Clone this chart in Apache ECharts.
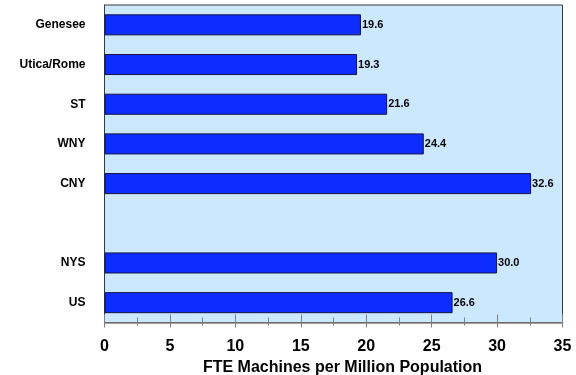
<!DOCTYPE html>
<html>
<head>
<meta charset="utf-8">
<script src="https://cdn.jsdelivr.net/npm/echarts@6/dist/echarts.min.js"></script>
<style>
  html, body { margin: 0; padding: 0; background: #ffffff; }
  #chart { width: 576px; height: 375px; }
</style>
</head>
<body>
<div id="chart"></div>
<script>
// Regions, top to bottom; the empty entry leaves a gap before the state and national rows.
const regions = ['Genesee', 'Utica/Rome', 'ST', 'WNY', 'CNY', '', 'NYS', 'US'];
// FTE machines per million population for each region.
const machinesPerMillion = [19.6, 19.3, 21.6, 24.4, 32.6, null, 30.0, 26.6];
// Value axis range and step.
const axisMin = 0;
const axisMax = 35;
const axisStep = 5;
const axisTitle = 'FTE Machines per Million Population';

const FONT = '"Liberation Sans", Arial, sans-serif';
const chart = echarts.init(document.getElementById('chart'), null, { renderer: 'canvas' });

const valueAxisBase = {
  type: 'value',
  gridIndex: 0,
  position: 'bottom',
  min: axisMin,
  max: axisMax,
  interval: axisStep,
  splitLine: { show: false }
};

chart.setOption({
  animation: false,
  backgroundColor: '#ffffff',
  grid: {
    left: 104.5,
    right: 13.5,
    top: 5,
    bottom: 52.5,
    show: true,
    backgroundColor: '#CCE8FF',
    borderColor: '#3a3a3a',
    borderWidth: 1,
    outerBoundsMode: 'none',
    containLabel: false
  },
  xAxis: [
    Object.assign({}, valueAxisBase, {
      name: axisTitle,
      nameLocation: 'middle',
      nameGap: 30,
      nameTextStyle: {
        fontFamily: FONT, fontWeight: 'bold', fontSize: 16, color: '#000',
        padding: [0, 0, 0, 18]
      },
      axisLine: { show: true, lineStyle: { color: '#808080', width: 1.5 } },
      axisTick: { show: true, inside: false, length: 5, lineStyle: { color: '#808080', width: 1 } },
      minorTick: { show: true, splitNumber: 2, length: 3, lineStyle: { color: '#808080', width: 1 } },
      axisLabel: {
        fontFamily: FONT, fontWeight: 'bold', fontSize: 16, color: '#000', margin: 16
      }
    }),
    // Upper half of the tick marks, which cross the axis line.
    Object.assign({}, valueAxisBase, {
      axisLine: { show: false },
      axisLabel: { show: false },
      axisTick: { show: true, inside: true, length: 8, lineStyle: { color: '#808080', width: 1 } },
      minorTick: { show: true, splitNumber: 2, length: 5, lineStyle: { color: '#808080', width: 1 } }
    })
  ],
  yAxis: {
    type: 'category',
    data: regions,
    inverse: true,
    axisLine: { show: true, lineStyle: { color: '#3a3a3a', width: 1 } },
    axisTick: { show: false },
    axisLabel: {
      fontFamily: FONT, fontWeight: 'bold', fontSize: 12, color: '#000', margin: 19
    },
    splitLine: { show: false }
  },
  series: [{
    type: 'bar',
    xAxisIndex: 0,
    data: machinesPerMillion,
    barCategoryGap: '47%',
    itemStyle: { color: '#0D2DFF', borderColor: '#141440', borderWidth: 1 },
    label: {
      show: true,
      position: 'right',
      distance: 1,
      fontFamily: FONT,
      fontWeight: 'bold',
      fontSize: 11,
      color: '#000',
      formatter: p => (p.value == null ? '' : Number(p.value).toFixed(1))
    }
  }]
});
</script>
</body>
</html>
